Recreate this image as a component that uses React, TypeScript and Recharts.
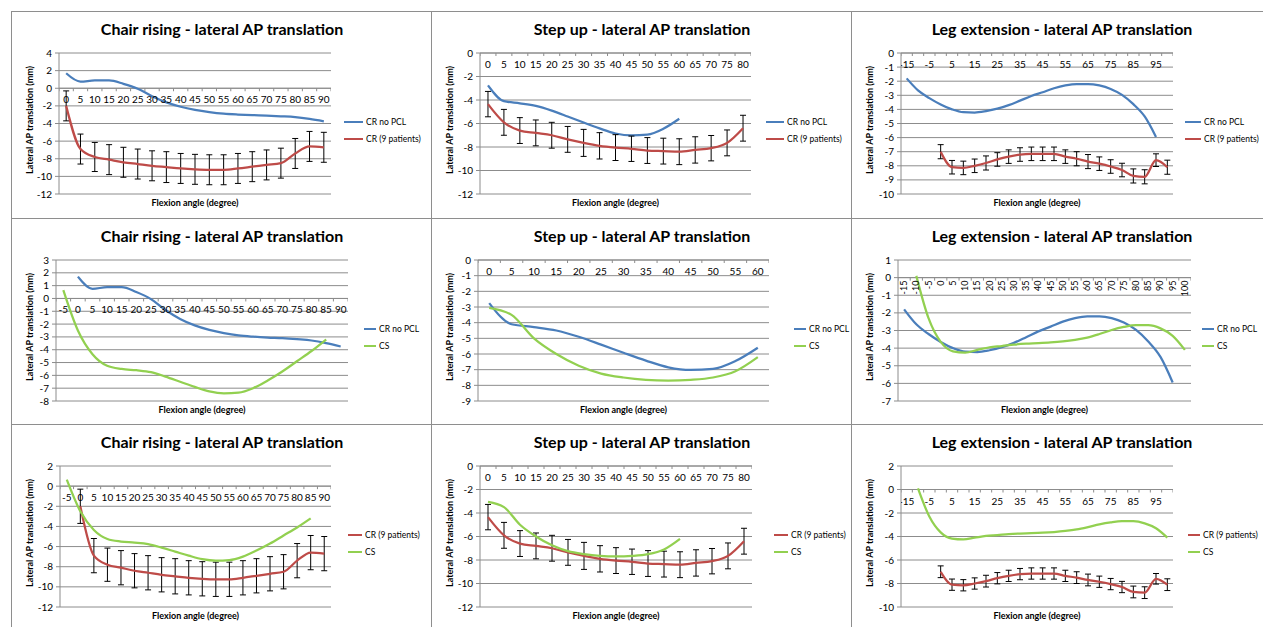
import React from "react";
import {
  ComposedChart,
  Line,
  XAxis,
  YAxis,
  CartesianGrid,
  ReferenceLine,
  ErrorBar,
  Scatter,
} from "recharts";

const BLUE = "#4A7EBB";
const RED = "#BE4B48";
const GREEN = "#92D050";
const GRID = "#8C8C8C";
const FONT = "Lato, 'Open Sans', sans-serif";

// Chair rising (flexion angle, degree)
const chairAngles = [-5, 0, 5, 10, 15, 20, 25, 30, 35, 40, 45, 50, 55, 60, 65, 70, 75, 80, 85, 90];
const chairNoPcl = [null, 1.7, 0.75, 0.88, 0.88, 0.5, -0.05, -0.9, -1.6, -2.1, -2.45, -2.7, -2.88, -2.98, -3.05, -3.1, -3.18, -3.28, -3.48, -3.75];
const chairCr9 = [null, -2.0, -6.9, -7.8, -8.1, -8.4, -8.6, -8.8, -8.95, -9.1, -9.2, -9.25, -9.25, -9.1, -8.9, -8.7, -8.5, -7.4, -6.6, -6.7];
const chairCr9Err = [null, 1.7, 1.7, 1.65, 1.7, 1.7, 1.7, 1.7, 1.75, 1.7, 1.7, 1.7, 1.7, 1.7, 1.7, 1.7, 1.7, 1.7, 1.7, 1.7];
const chairCs = [0.65, -2.5, -4.35, -5.25, -5.5, -5.6, -5.75, -6.1, -6.5, -6.9, -7.25, -7.4, -7.35, -7.0, -6.4, -5.7, -4.9, -4.1, -3.2, null];

// Step up
const stepAngles = [0, 5, 10, 15, 20, 25, 30, 35, 40, 45, 50, 55, 60, 65, 70, 75, 80];
const stepNoPcl = [-2.75, -4.1, -4.28, -4.5, -4.9, -5.4, -5.92, -6.42, -6.85, -7.02, -6.95, -6.45, -5.6, null, null, null, null];
const stepCr9 = [-4.35, -5.9, -6.6, -6.8, -7.0, -7.35, -7.65, -7.9, -8.05, -8.15, -8.3, -8.35, -8.4, -8.25, -8.1, -7.65, -6.4];
const stepCr9Err = [1.08, 1.1, 1.1, 1.1, 1.1, 1.1, 1.15, 1.12, 1.1, 1.08, 1.1, 1.1, 1.1, 1.12, 1.08, 1.1, 1.1];
const stepCs = [-3.05, -3.5, -5.0, -6.0, -6.75, -7.25, -7.5, -7.65, -7.7, -7.65, -7.5, -7.1, -6.2, null, null, null, null];

// Leg extension
const legAngles = [-15, -10, -5, 0, 5, 10, 15, 20, 25, 30, 35, 40, 45, 50, 55, 60, 65, 70, 75, 80, 85, 90, 95, 100];
const legNoPcl = [-1.8, -2.65, -3.2, -3.65, -4.0, -4.2, -4.22, -4.12, -3.95, -3.7, -3.38, -3.05, -2.78, -2.5, -2.3, -2.2, -2.2, -2.3, -2.55, -2.97, -3.63, -4.5, -5.95, null];
const legCr9 = [null, null, null, -7.0, -8.1, -8.15, -8.0, -7.8, -7.55, -7.35, -7.2, -7.15, -7.15, -7.15, -7.35, -7.5, -7.7, -7.85, -8.05, -8.3, -8.72, -8.78, -7.6, -8.1];
const legCr9Err = [null, null, null, 0.5, 0.48, 0.48, 0.48, 0.5, 0.48, 0.48, 0.48, 0.48, 0.48, 0.48, 0.48, 0.5, 0.5, 0.48, 0.48, 0.48, 0.5, 0.5, 0.45, 0.5];
const legCs = [null, 0.1, -2.3, -3.65, -4.18, -4.25, -4.1, -3.95, -3.88, -3.8, -3.75, -3.72, -3.68, -3.62, -3.53, -3.4, -3.2, -2.97, -2.8, -2.7, -2.7, -2.88, -3.3, -4.1];

const ticksA = [-12, -10, -8, -6, -4, -2, 0, 2, 4];
const ticksB = [-12, -10, -8, -6, -4, -2, 0];
const ticksC = [-10, -9, -8, -7, -6, -5, -4, -3, -2, -1, 0];
const ticksD = [-8, -7, -6, -5, -4, -3, -2, -1, 0, 1, 2, 3];
const ticksE = [-9, -8, -7, -6, -5, -4, -3, -2, -1, 0];
const ticksF = [-7, -6, -5, -4, -3, -2, -1, 0, 1];
const ticksG = [-12, -10, -8, -6, -4, -2, 0, 2];
const ticksH = [-10, -8, -6, -4, -2, 0, 2];

const SERIES: Record<string, { name: string; color: string }> = {
  noPcl: { name: "CR no PCL", color: BLUE },
  cr9: { name: "CR (9 patients)", color: RED },
  cs: { name: "CS", color: GREEN },
};

const buildRows = (angles: number[], noPcl: any[], cr9: any[], cr9Err: any[], cs: any[]) =>
  angles.map((a, i) => ({ a, noPcl: noPcl[i], cr9: cr9[i], cr9Err: cr9Err[i], cs: cs[i] }));

const chairRows = buildRows(chairAngles, chairNoPcl, chairCr9, chairCr9Err, chairCs);
const stepRows = buildRows(stepAngles, stepNoPcl, stepCr9, stepCr9Err, stepCs);
const legRows = buildRows(legAngles, legNoPcl, legCr9, legCr9Err, legCs);

const CHAIR = "Chair rising - lateral AP translation";
const STEP = "Step up - lateral AP translation";
const LEG = "Leg extension - lateral AP translation";

const panels = [
  { title: CHAIR, rows: chairRows, from: 0, to: 90, keys: ["noPcl", "cr9"], yTicks: ticksA, pl: 47, pr: 319, lx: 332, ll: 19, every: 1, rot: false },
  { title: STEP, rows: stepRows, from: 0, to: 80, keys: ["noPcl", "cr9"], yTicks: ticksB, pl: 48, pr: 319, lx: 334, ll: 18, every: 1, rot: false },
  { title: LEG, rows: legRows, from: -15, to: 100, keys: ["noPcl", "cr9"], yTicks: ticksC, pl: 49, pr: 321, lx: 333, ll: 16, every: 2, rot: false },
  { title: CHAIR, rows: chairRows, from: -5, to: 90, keys: ["noPcl", "cs"], yTicks: ticksD, pl: 44, pr: 336, lx: 352, ll: 12, every: 1, rot: false },
  { title: STEP, rows: stepRows, from: 0, to: 60, keys: ["noPcl", "cs"], yTicks: ticksE, pl: 46, pr: 337, lx: 362, ll: 12, every: 1, rot: false },
  { title: LEG, rows: legRows, from: -15, to: 100, keys: ["noPcl", "cs"], yTicks: ticksF, pl: 46, pr: 339, lx: 350, ll: 12, every: 1, rot: true },
  { title: CHAIR, rows: chairRows, from: -5, to: 90, keys: ["cr9", "cs"], yTicks: ticksG, pl: 48, pr: 319, lx: 336, ll: 14, every: 1, rot: false },
  { title: STEP, rows: stepRows, from: 0, to: 80, keys: ["cr9", "cs"], yTicks: ticksB, pl: 48, pr: 320, lx: 342, ll: 14, every: 1, rot: false },
  { title: LEG, rows: legRows, from: -15, to: 100, keys: ["cr9", "cs"], yTicks: ticksH, pl: 49, pr: 321, lx: 336, ll: 12, every: 2, rot: false },
];

const W = 420;
const H = 207;
const PLOT_TOP = 41;
const PLOT_BOTTOM = 182;

function Panel({ cfg, left, top }: { cfg: any; left: number; top: number }) {
  const rows = cfg.rows.filter((r: any) => r.a >= cfg.from && r.a <= cfg.to);
  const cats = rows.map((r: any) => r.a);
  const labels = cats.filter((_: number, i: number) => i % cfg.every === 0).map((a: number) => ({ a, z: 0 }));
  const bounds = [...cats.map((a: number) => a - 2.5), cats[cats.length - 1] + 2.5].map((a: number) => ({ a, z: 0 }));
  const yMin = cfg.yTicks[0];
  const yMax = cfg.yTicks[cfg.yTicks.length - 1];

  const labelShape = (p: any) =>
    cfg.rot ? (
      <text transform={`translate(${p.cx + 3},${p.cy + 3}) rotate(-90)`} textAnchor="end" fontSize={9} fill="#000">
        {p.payload.a}
      </text>
    ) : (
      <text x={p.cx} y={p.cy + 15} textAnchor="middle" fontSize={10} fill="#000">
        {p.payload.a}
      </text>
    );
  const tickShape = (p: any) => <line x1={p.cx} x2={p.cx} y1={p.cy} y2={p.cy + 3} stroke={GRID} />;

  return (
    <div
      style={{
        position: "absolute",
        left,
        top,
        width: W + 1,
        height: H + 1,
        boxSizing: "border-box",
        border: "1px solid #8E8E8E",
        background: "#fff",
        overflow: "hidden",
      }}
    >
      <div style={{ position: "absolute", left: 0, top: 7, width: W, textAlign: "center", fontSize: 16, fontWeight: 700, lineHeight: "20px" }}>
        {cfg.title}
      </div>
      <div style={{ position: "absolute", left: 0, top: 0 }}>
        <ComposedChart
          width={W}
          height={H}
          data={rows}
          margin={{ top: PLOT_TOP, right: W - cfg.pr, bottom: H - PLOT_BOTTOM, left: 0 }}
        >
          <CartesianGrid vertical={false} stroke={GRID} />
          <XAxis dataKey="a" type="number" domain={[cats[0] - 2.5, cats[cats.length - 1] + 2.5]} hide allowDataOverflow />
          <YAxis
            type="number"
            domain={[yMin, yMax]}
            ticks={cfg.yTicks}
            interval={0}
            width={cfg.pl}
            allowDataOverflow
            tick={{ fontSize: 10, fill: "#000" }}
            tickLine={{ stroke: GRID }}
            tickSize={4}
            tickMargin={3}
            axisLine={{ stroke: GRID }}
          />
          <ReferenceLine y={0} stroke={GRID} />
          <Scatter data={bounds} dataKey="z" shape={tickShape} isAnimationActive={false} />
          <Scatter data={labels} dataKey="z" shape={labelShape} isAnimationActive={false} />
          {cfg.keys.map((k: string) => (
            <Line
              key={k}
              dataKey={k}
              type="monotone"
              stroke={SERIES[k].color}
              strokeWidth={2.25}
              dot={false}
              activeDot={false}
              isAnimationActive={false}
            >
              {k === "cr9" && <ErrorBar dataKey="cr9Err" direction="y" width={3} stroke="#000" strokeWidth={1} />}
            </Line>
          ))}
        </ComposedChart>
      </div>
      <div
        style={{
          position: "absolute",
          left: 17,
          top: 108,
          transform: "translate(-50%, -50%) rotate(-90deg)",
          whiteSpace: "nowrap",
          fontSize: 9,
          fontWeight: 700,
        }}
      >
        Lateral AP translation (mm)
      </div>
      <div
        style={{
          position: "absolute",
          left: (cfg.pl + cfg.pr) / 2,
          top: 190,
          transform: "translate(-50%, -50%)",
          whiteSpace: "nowrap",
          fontSize: 9,
          fontWeight: 700,
        }}
      >
        Flexion angle (degree)
      </div>
      <div style={{ position: "absolute", left: cfg.lx, top: 101, fontSize: 8.5, whiteSpace: "nowrap" }}>
        {cfg.keys.map((k: string) => (
          <div key={k} style={{ display: "flex", alignItems: "center", height: 17 }}>
            <span style={{ display: "inline-block", width: cfg.ll, height: 2, background: SERIES[k].color, marginRight: 3 }} />
            {SERIES[k].name}
          </div>
        ))}
      </div>
    </div>
  );
}

const colLeft = [11, 431, 851];
const rowTop = [11, 218, 424];

export default function App() {
  return (
    <div style={{ position: "relative", width: 1263, height: 627, background: "#fff", fontFamily: FONT, color: "#000", overflow: "hidden" }}>
      <style>{"body{margin:0;overflow:hidden;}"}</style>
      {panels.map((cfg, i) => (
        <Panel key={i} cfg={cfg} left={colLeft[i % 3]} top={rowTop[Math.floor(i / 3)]} />
      ))}
    </div>
  );
}
